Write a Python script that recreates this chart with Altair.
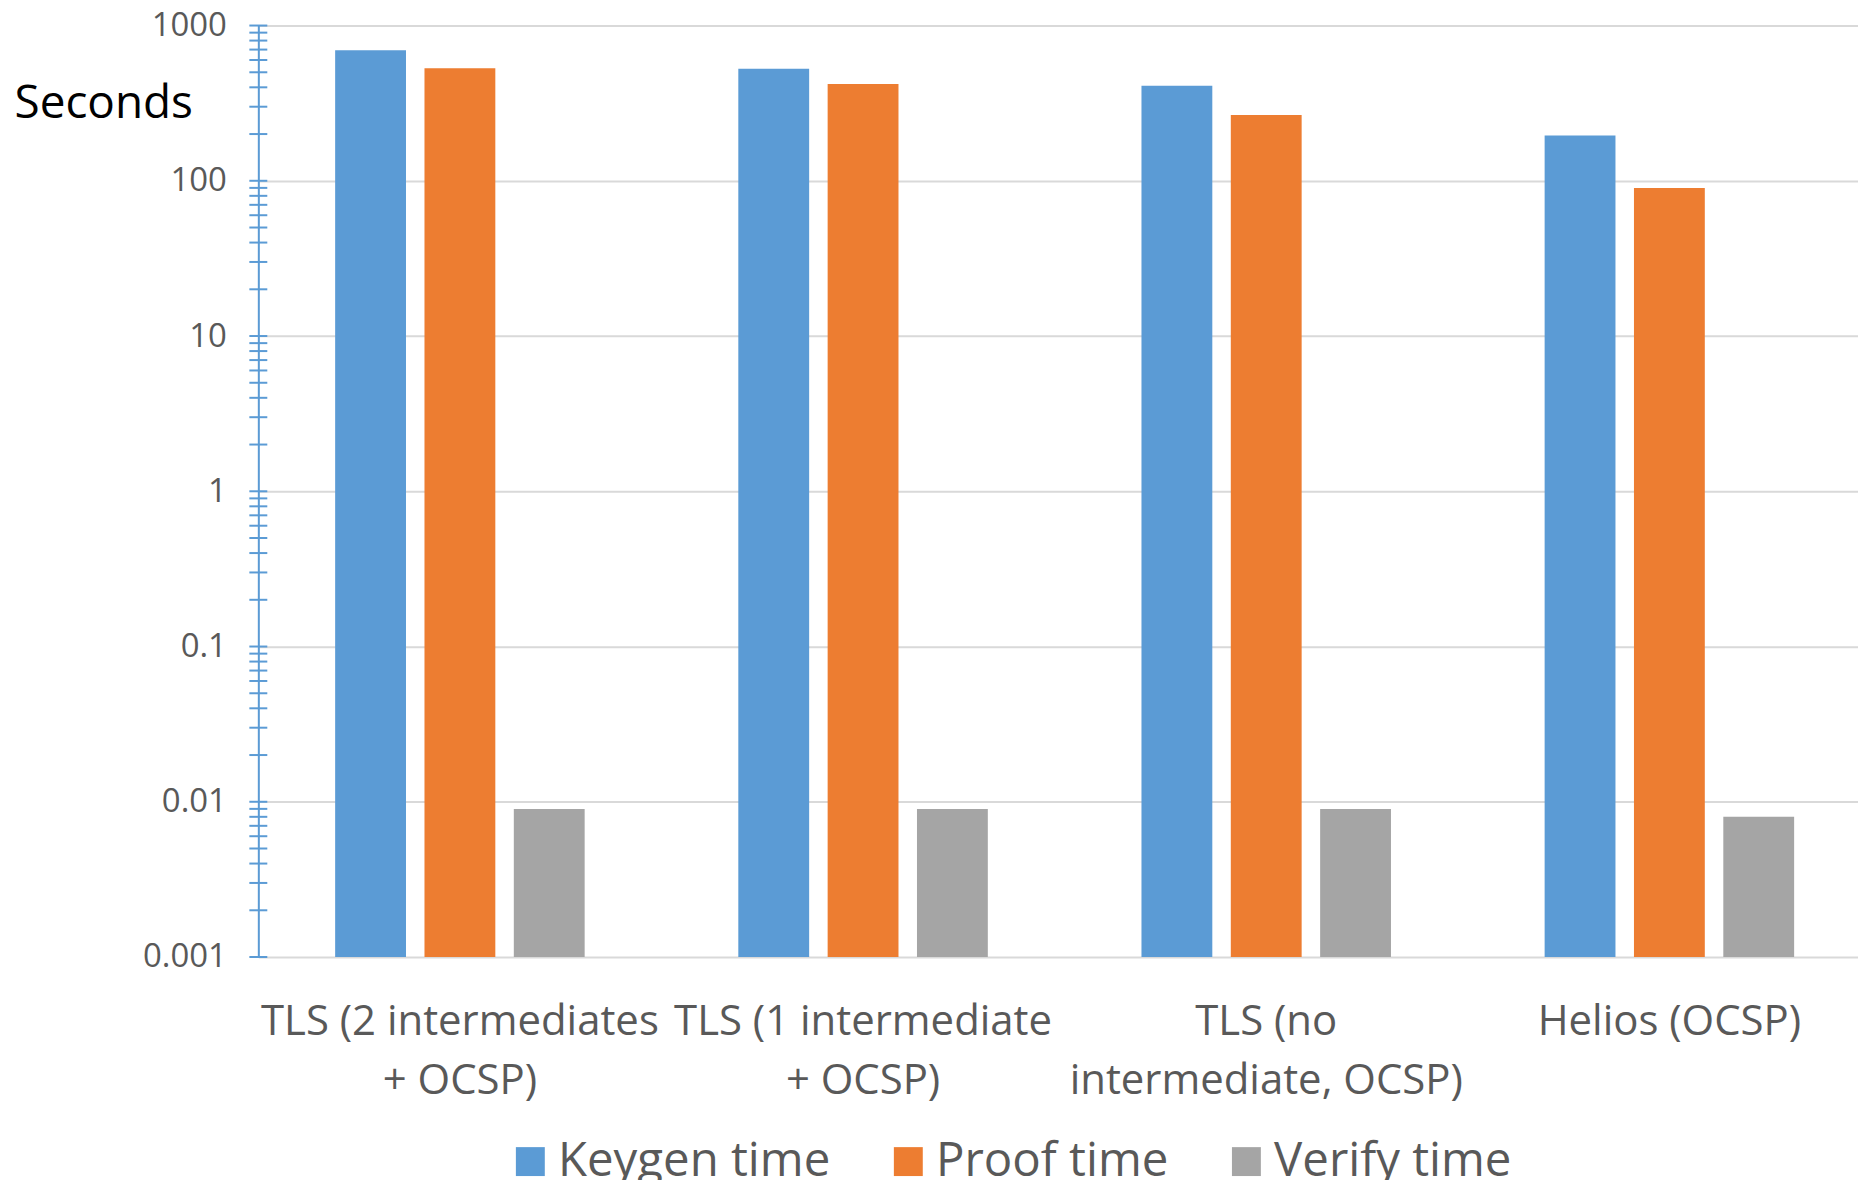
import altair as alt
import pandas as pd

categories = ["TLS (2 intermediates|+ OCSP)", "TLS (1 intermediate|+ OCSP)",
              "TLS (no|intermediate, OCSP)", "Helios (OCSP)"]
series = ["Keygen time", "Proof time", "Verify time"]
keygen = [693, 527, 410, 196]
proof = [530, 420, 265, 90]
verify = [0.009, 0.009, 0.009, 0.008]
colors = ["#5B9BD5", "#ED7D31", "#A5A5A5"]
decades = [0.001, 0.01, 0.1, 1, 10, 100, 1000]
multipliers = [1, 2, 3, 4, 5, 6, 7, 8, 9]

rows = []
for i, c in enumerate(categories):
    for s, vals in zip(series, [keygen, proof, verify]):
        rows.append({"category": c, "series": s, "value": vals[i], "base": decades[0]})
df = pd.DataFrame(rows)

tick_vals = [m * d for d in decades[:-1] for m in multipliers] + [decades[-1]]
ticks_df = pd.DataFrame({"value": tick_vals})

FONT = "Open Sans"

y_axis = alt.Axis(
    values=decades, format="~g", title="Seconds",
    titleAngle=0, titleAlign="left", titleBaseline="alphabetic",
    titleX=-245, titleY=92, titleFontSize=46, titleFont=FONT,
    titleColor="black", titleFontWeight="normal",
    labelFont=FONT, labelFontSize=33, labelColor="#595959", labelPadding=32,
    ticks=False, domainColor="#5B9BD5", domainWidth=2,
    gridColor="#D9D9D9", gridWidth=2,
)
y_scale = alt.Scale(type="log", domain=[0.001, 1000])

bars = alt.Chart(df).mark_bar().encode(
    x=alt.X("category:N", sort=categories,
            scale=alt.Scale(paddingInner=0, paddingOuter=0, range=[0, 1617]),
            axis=alt.Axis(title=None, labelExpr="split(datum.label, '|')",
                          labelFont=FONT, labelFontSize=42, labelColor="#595959",
                          labelLineHeight=59, labelPadding=45, ticks=False,
                          domain=False, labelAngle=0, labelLimit=1000,
                          labelOverlap=False, grid=False)),
    xOffset=alt.XOffset("series:N", sort=series,
                        scale=alt.Scale(paddingInner=0.207, paddingOuter=0.86)),
    y=alt.Y("value:Q", scale=y_scale, axis=y_axis, stack=None),
    y2=alt.Y2("base:Q"),
    color=alt.Color("series:N", sort=series,
                    scale=alt.Scale(domain=series, range=colors),
                    legend=alt.Legend(orient="none", legendX=249, legendY=1115,
                                      direction="horizontal", title=None,
                                      symbolType="square", symbolSize=841,
                                      symbolStrokeWidth=0, labelFontSize=47.5,
                                      labelFont=FONT, labelColor="#595959",
                                      labelOffset=4, columnPadding=54, padding=0,
                                      labelLimit=600)),
)

ticks = alt.Chart(ticks_df).mark_rule(color="#5B9BD5", strokeWidth=2).encode(
    y=alt.Y("value:Q", scale=y_scale, axis=y_axis),
    x=alt.value(-9), x2=alt.value(9),
)

chart = alt.layer(bars, ticks).properties(
    width=1604, height=934,
    padding={"left": 251, "top": 16, "right": 0, "bottom": 222},
    autosize=alt.AutoSizeParams(type="none"),
).configure_view(stroke=None).configure(background="white")

chart.save("out.html", embed_options={"renderer": "svg", "actions": False})
